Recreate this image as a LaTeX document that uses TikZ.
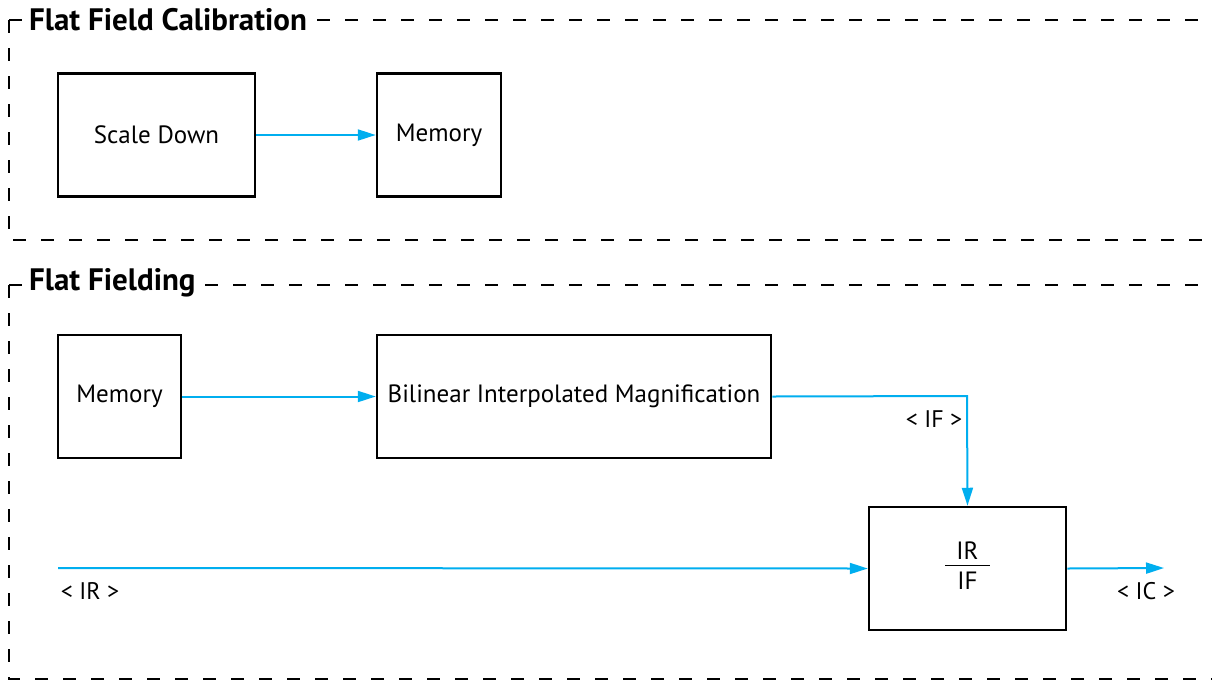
\documentclass[tikz,border=0pt]{standalone}
\usepackage{fontspec}
\setmainfont{PT Sans}
\usetikzlibrary{arrows.meta}
\definecolor{flow}{RGB}{0,174,239}
\begin{document}
\begin{tikzpicture}[x=1pt,y=-1pt,
  blk/.style={draw=black,line width=2.5pt,minimum width=#1,minimum height=123pt,inner sep=0pt,font=\fontsize{25}{30}\selectfont},
  frame/.style={draw=black,line width=2pt,dash pattern=on 13pt off 15pt},
  ttl/.style={fill=white,inner sep=2pt,anchor=west,font=\bfseries\fontsize{31}{36}\selectfont},
  lbl/.style={font=\fontsize{24}{28}\selectfont,inner sep=0pt},
  flowline/.style={draw=flow,line width=2pt,-{Triangle[length=18pt,width=11pt]}}]
\useasboundingbox (0,0) rectangle (1212,681);
% frames
\draw[frame] (9,20) -- (9,240) -- (1240,240);
\draw[frame] (9,285) -- (9,679) -- (1240,679);
\draw[frame] (9,20) -- (1240,20);
\draw[frame] (9,285) -- (1240,285);
\node[ttl] (t1) at (27,20) {Flat Field Calibration};
\node[ttl] (t2) at (27,283) {Flat Fielding};
% blocks
\node[blk=197pt] (sd) at (156.5,135) {Scale Down};
\node[blk=124pt] (m1) at (439,135) {Memory};
\node[blk=123pt] (m2) at (119.5,396.5) {Memory};
\node[blk=394pt] (bim) at (574,396.5) {Bilinear Interpolated Magnification};
\node[blk=197pt] (div) at (967.5,568.5) {\begin{tabular}{@{\hspace{11pt}}c@{\hspace{11pt}}}IR\\[-4pt]\hline\rule{0pt}{24pt}IF\end{tabular}};
% connectors
\coordinate (irin) at (58,568);
\coordinate (icout) at (1164,568);
\coordinate (bend) at (967,396);
\draw[flowline] (sd) -- (m1);
\draw[flowline] (m2) -- (bim);
\draw[flowline] (bim.east) -- (bend) -- (div.north);
\draw[flowline] (irin) -- (div.west);
\draw[flowline] (div.east) -- (icout);
% labels
\node[lbl] (lif) at (934,419) {< IF >};
\node[lbl] (lir) at (90,591) {< IR >};
\node[lbl] (lic) at (1146,591) {< IC >};
\end{tikzpicture}
\end{document}
